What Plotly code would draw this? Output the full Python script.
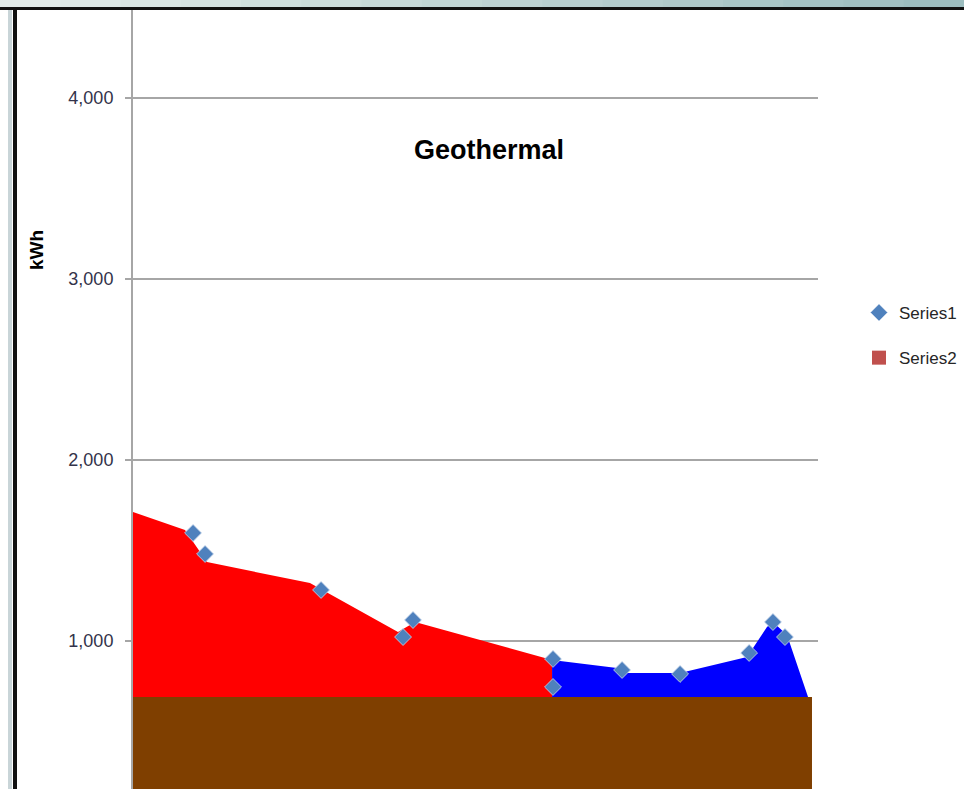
import plotly.graph_objects as go

# ---------------- data (x = day of year, y = kWh) ----------------
series1_x = [32.0, 38.4, 100.2, 143.9, 149.2, 223.8, 223.8, 260.6, 291.5, 328.3, 341.0, 347.4]
series1_y = [1597, 1481, 1282, 1022, 1116, 901, 746, 840, 818, 934, 1105, 1022]

red_x = [0, 27.7, 39.4, 94.3, 141.2, 150.3, 223.3]
red_y = [1713, 1613, 1436, 1320, 1050, 1105, 895]

blue_x = [223.3, 257.9, 263.2, 291.5, 327.2, 337.8, 341.0, 348.5, 359.7]
blue_y = [895, 851, 823, 823, 912, 1077, 1105, 1033, 690]

base_level = 690
base_x = [0, 361.8]

y_ticks = [1000, 2000, 3000, 4000]

# ---------------- figure ----------------
W, H = 964, 789
L, R = 133, 818  # plot area in px

fig = go.Figure()

# brown base band
fig.add_trace(go.Scatter(
    x=base_x, y=[base_level] * len(base_x), mode="lines",
    line=dict(width=0, color="#7f3f00"), fill="tozeroy", fillcolor="#7f3f00",
    showlegend=False, hoverinfo="skip"))

# red area (closed down to the base level)
fig.add_trace(go.Scatter(
    x=red_x + [red_x[-1], red_x[0]], y=red_y + [base_level, base_level],
    mode="lines", line=dict(width=0, color="#ff0000"), fill="toself", fillcolor="#ff0000",
    showlegend=False, hoverinfo="skip"))

# blue area
fig.add_trace(go.Scatter(
    x=blue_x + [blue_x[0]], y=blue_y + [base_level],
    mode="lines", line=dict(width=0, color="#0000ff"), fill="toself", fillcolor="#0000ff",
    showlegend=False, hoverinfo="skip"))

# Series1 markers
fig.add_trace(go.Scatter(
    x=series1_x, y=series1_y, mode="markers", name="Series1",
    marker=dict(symbol="diamond", size=13, color="#4f81bd",
                line=dict(width=1, color="rgba(200,215,235,0.8)")),
    legendgroup="a"))

# Series2 legend entry
fig.add_trace(go.Scatter(
    x=[None], y=[None], mode="markers", name="Series2",
    marker=dict(symbol="square", size=14, color="#c0504d"),
    legendgroup="b"))

def px_x(p):
    return (p - L) / (R - L)

def px_y(p):
    return (H - p) / H

shapes = []
# top gradient band
steps = 16
c0 = (0xe2, 0xeb, 0xe9)
c1 = (0x9c, 0xbd, 0xbf)
for i in range(steps):
    t = i / (steps - 1)
    col = "rgb(%d,%d,%d)" % tuple(round(a + (b - a) * t) for a, b in zip(c0, c1))
    x0 = i * W / steps
    x1 = (i + 1) * W / steps + 1
    shapes.append(dict(type="rect", xref="paper", yref="paper", layer="above",
                       x0=px_x(x0), x1=px_x(x1), y0=px_y(7), y1=px_y(0),
                       fillcolor=col, line=dict(width=0)))
# black line under band
shapes.append(dict(type="rect", xref="paper", yref="paper", layer="above",
                   x0=px_x(0), x1=px_x(W), y0=px_y(10), y1=px_y(7),
                   fillcolor="#111111", line=dict(width=0)))
# left light strip and black line
shapes.append(dict(type="rect", xref="paper", yref="paper", layer="above",
                   x0=px_x(8), x1=px_x(12), y0=px_y(H), y1=px_y(10),
                   fillcolor="#c9d5d8", line=dict(width=0)))
shapes.append(dict(type="rect", xref="paper", yref="paper", layer="above",
                   x0=px_x(13), x1=px_x(17), y0=px_y(H), y1=px_y(10),
                   fillcolor="#111111", line=dict(width=0)))

annotations = [
    dict(text="<b>Geothermal</b>", xref="paper", yref="paper",
         x=px_x(489), y=px_y(150), xanchor="center", yanchor="middle", showarrow=False,
         font=dict(family="Liberation Sans, Arial", size=27, color="#000000")),
    dict(text="<b>kWh</b>", xref="paper", yref="paper", textangle=-90,
         x=px_x(37), y=px_y(250), xanchor="center", yanchor="middle", showarrow=False,
         font=dict(family="Liberation Sans, Arial", size=19, color="#000000")),
]

y_top = 822 / 181 * 1000
y_bot = (822 - H) / 181 * 1000

fig.update_layout(
    width=W, height=H,
    margin=dict(l=L, r=W - R, t=0, b=0, pad=0, autoexpand=False),
    paper_bgcolor="white", plot_bgcolor="white",
    xaxis=dict(range=[0, 365], visible=False, showgrid=False, zeroline=False),
    yaxis=dict(range=[y_bot, y_top], tickvals=y_ticks, tickformat=",d",
               showgrid=True, gridcolor="#a6a6a6", gridwidth=2,
               showline=True, linecolor="#a6a6a6", linewidth=2,
               ticks="outside", ticklen=6, tickcolor="#a6a6a6", tickwidth=2,
               ticklabelstandoff=8, zeroline=False,
               tickfont=dict(family="Liberation Sans, Arial", size=18, color="#33334a")),
    showlegend=True,
    legend=dict(x=px_x(859), y=px_y(295), xanchor="left", yanchor="top",
                font=dict(family="Liberation Sans, Arial", size=17, color="#262626"),
                tracegroupgap=20, bgcolor="rgba(0,0,0,0)"),
    shapes=shapes, annotations=annotations,
)

fig.write_html("out.html", config={"displayModeBar": False},
               post_script="document.body.style.margin='0';document.body.style.overflow='hidden';")
